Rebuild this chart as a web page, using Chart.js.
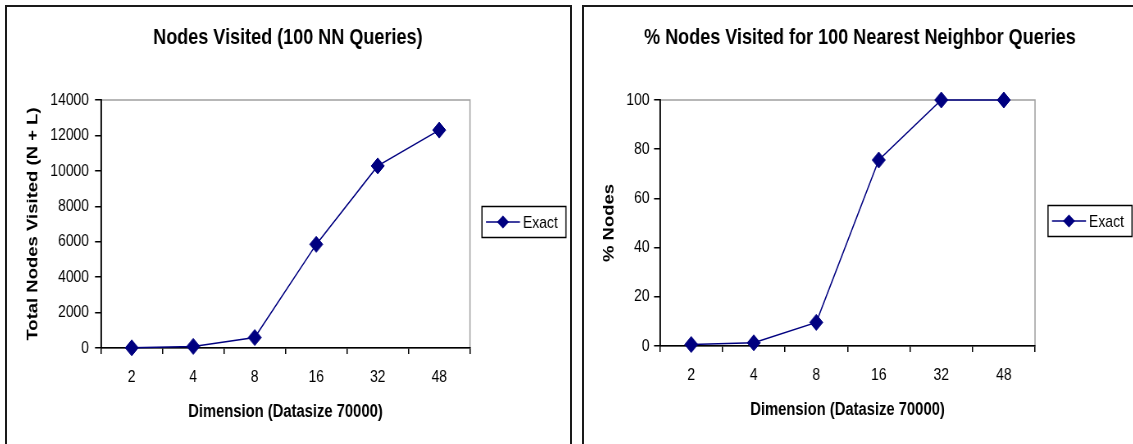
<!DOCTYPE html>
<html>
<head>
<meta charset="utf-8">
<script src="https://cdn.jsdelivr.net/npm/chart.js@4.4.0/dist/chart.umd.min.js"></script>
<style>
  html, body { margin: 0; padding: 0; background: #fff; overflow: hidden; width: 1133px; height: 444px; }
  .panel { position: absolute; top: 5px; height: 460px; border: 2px solid #1a1a1a; box-sizing: border-box; }
  #panelLeft { left: 5px; width: 567px; }
  #panelRight { left: 582px; width: 580px; }
  /* the reference is squeezed sideways, so the canvases are too */
  canvas { position: absolute; transform: scaleX(0.82); transform-origin: 0 0; }
  #leftChart { left: 7px; top: 7px; }
  #rightChart { left: 584px; top: 7px; }
</style>
</head>
<body>
<div class="panel" id="panelLeft"></div>
<div class="panel" id="panelRight"></div>
<canvas id="leftChart" width="685" height="437"></canvas>
<canvas id="rightChart" width="673" height="437"></canvas>
<script>
// data
const dimensions = ['2', '4', '8', '16', '32', '48'];
const nodesVisited = [10, 90, 590, 5850, 10280, 12300];
const pctNodes = [0.6, 1.3, 9.6, 75.6, 100, 100];
const seriesName = 'Exact';

const SQ = 0.82;   // horizontal squeeze applied by css
const font = "'Liberation Sans', Arial, sans-serif";
const navy = '#000080';

Chart.defaults.color = '#000';

// grey frame on top/right of the plot, black axes drawn over it later
const plotFrame = {
    id: 'plotFrame',
    beforeDraw(chart) {
        const { ctx, chartArea: a } = chart;
        ctx.save();
        ctx.strokeStyle = '#a0a0a0';
        ctx.lineWidth = 1.5;
        ctx.strokeRect(a.left, a.top, a.right - a.left, a.bottom - a.top);
        ctx.restore();
    }
};

// boxed legend: line + diamond + label, right of the plot
const boxLegend = {
    id: 'boxLegend',
    afterDraw(chart, args, opts) {
        const { ctx, chartArea: a } = chart;
        const k = 1 / SQ;
        const x = a.right + opts.gap * k;
        const w = 84 * k, h = 31;
        const y = (a.top + a.bottom) / 2 - 2 - h / 2;
        const cy = y + h / 2;
        const mx = x + 21 * k;
        ctx.save();
        ctx.fillStyle = '#fff';
        ctx.fillRect(x, y, w, h);
        ctx.strokeStyle = '#000';
        ctx.lineWidth = 1.5;
        ctx.strokeRect(x, y, w, h);
        ctx.strokeStyle = navy;
        ctx.beginPath();
        ctx.moveTo(x + 4 * k, cy);
        ctx.lineTo(x + 38 * k, cy);
        ctx.stroke();
        ctx.fillStyle = navy;
        ctx.beginPath();
        ctx.moveTo(mx - 6 * k, cy);
        ctx.lineTo(mx, cy - 6.5);
        ctx.lineTo(mx + 6 * k, cy);
        ctx.lineTo(mx, cy + 6.5);
        ctx.closePath();
        ctx.fill();
        ctx.fillStyle = '#000';
        ctx.font = '17px ' + font;
        ctx.textBaseline = 'middle';
        ctx.fillText(chart.data.datasets[0].label, x + 41 * k, cy + 1);
        ctx.restore();
    }
};

function makeConfig(values, opts) {
    return {
        type: 'line',
        data: {
            labels: dimensions,
            datasets: [{
                label: seriesName,
                data: values,
                borderColor: navy,
                backgroundColor: navy,
                borderWidth: 1.5,
                pointStyle: 'rectRot',
                pointRadius: 8,
                pointBorderWidth: 1,
                pointBackgroundColor: navy,
                pointBorderColor: navy,
                tension: 0,
                clip: false
            }]
        },
        options: {
            responsive: false,
            animation: false,
            layout: { padding: 0 },
            plugins: {
                legend: { display: false },
                tooltip: { enabled: false },
                title: {
                    display: true,
                    text: opts.title,
                    color: '#000',
                    font: { family: font, size: 22, weight: 'bold' },
                    padding: { top: 17.8, bottom: 48.8 }
                },
                boxLegend: { gap: opts.legendGap }
            },
            scales: {
                x: {
                    type: 'category',
                    offset: true,
                    grid: {
                        offset: true,
                        drawOnChartArea: false,
                        drawTicks: true,
                        tickLength: 6,
                        color: '#000',
                        lineWidth: 1.5
                    },
                    border: { display: true, color: '#000', width: 1.5 },
                    ticks: {
                        font: { family: font, size: 17 },
                        padding: 12.8,
                        maxRotation: 0,
                        autoSkip: false
                    },
                    title: {
                        display: true,
                        text: 'Dimension (Datasize 70000)',
                        font: { family: font, size: 18, weight: 'bold' },
                        padding: { top: 0, bottom: opts.xTitlePad }
                    },
                    afterFit(scale) { scale.height = opts.xHeight; }
                },
                y: {
                    min: 0,
                    max: opts.yMax,
                    grid: {
                        drawOnChartArea: false,
                        drawTicks: true,
                        tickLength: 7.3,
                        color: '#000',
                        lineWidth: 1.5
                    },
                    border: { display: true, color: '#000', width: 1.8 },
                    ticks: {
                        stepSize: opts.yStep,
                        font: { family: font, size: 17 },
                        padding: opts.yTickPad,
                        callback: (v) => String(v)
                    },
                    title: {
                        display: true,
                        text: opts.yTitle,
                        font: { family: font, size: 18.5, weight: 'bold' },
                        padding: { top: opts.yTitlePad, bottom: 0 }
                    },
                    afterFit(scale) { scale.width = opts.yWidth; }
                },
                // empty axis on the right, only keeps room for the legend box
                spacer: {
                    type: 'linear',
                    position: 'right',
                    grid: { display: false },
                    border: { display: false },
                    ticks: { display: false },
                    afterFit(scale) { scale.width = opts.padRight; }
                }
            }
        },
        plugins: [plotFrame, boxLegend]
    };
}

const leftChart = new Chart(document.getElementById('leftChart'), makeConfig(nodesVisited, {
    title: 'Nodes Visited (100 NN Queries)',
    yTitle: 'Total Nodes Visited (N + L)',
    yMax: 14000,
    yStep: 2000,
    yWidth: 114.6,
    yTickPad: 7.3,
    yTitlePad: 20.6,
    xHeight: 96,
    xTitlePad: 21.2,
    padRight: 120.4,
    legendGap: 12
}));

const rightChart = new Chart(document.getElementById('rightChart'), makeConfig(pctNodes, {
    title: '% Nodes Visited for 100 Nearest Neighbor Queries',
    yTitle: '% Nodes',
    yMax: 100,
    yStep: 20,
    yWidth: 92.7,
    yTickPad: 5.5,
    yTitlePad: 19.4,
    xHeight: 98,
    xTitlePad: 23.2,
    padRight: 123,
    legendGap: 13
}));
</script>
</body>
</html>
